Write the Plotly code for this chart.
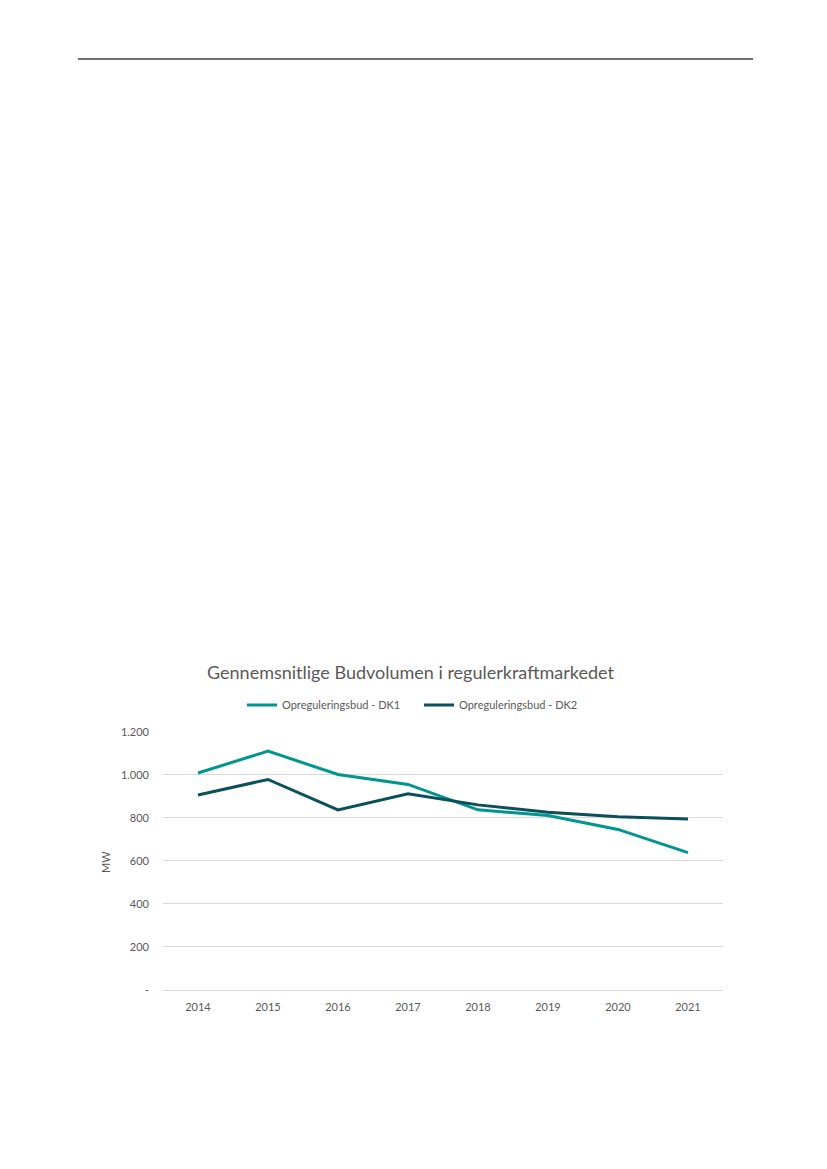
import plotly.graph_objects as go

W, H = 827, 1169
OFF = 8  # page body margin offset

years = ["2014", "2015", "2016", "2017", "2018", "2019", "2020", "2021"]
dk1 = [1008, 1110, 1001, 955, 837, 811, 746, 638]
dk2 = [906, 978, 837, 912, 860, 826, 805, 795]
series_names = ["Opreguleringsbud - DK1", "Opreguleringsbud - DK2"]
y_tickvals = [0, 200, 400, 600, 800, 1000, 1200]
y_ticktext = ["-", "200", "400", "600", "800", "1.000", "1.200"]
title_text = "Gennemsnitlige Budvolumen i regulerkraftmarkedet"
y_title = "MW"

c1 = "#00968F"
c2 = "#0B4F5B"
txt = "#595959"
font = "Lato, 'Open Sans', sans-serif"

def px(x):
    return (x - OFF) / W

def py(y):
    return 1 - (y - OFF) / H

fig = go.Figure()
fig.add_trace(go.Scatter(x=years, y=dk1, mode="lines", name=series_names[0],
                         line=dict(color=c1, width=3)))
fig.add_trace(go.Scatter(x=years, y=dk2, mode="lines", name=series_names[1],
                         line=dict(color=c2, width=3)))

fig.update_layout(
    template="none",
    width=W, height=H,
    margin=dict(l=0, r=0, t=0, b=0, pad=0, autoexpand=False),
    paper_bgcolor="white", plot_bgcolor="white",
    font=dict(family=font, color=txt, size=11),
    showlegend=True,
    legend=dict(orientation="h", x=px(242), xanchor="left", y=py(705), yanchor="middle",
                font=dict(size=11, color=txt), itemwidth=30, entrywidth=132,
                tracegroupgap=0, bgcolor="rgba(0,0,0,0)", borderwidth=0),
    xaxis=dict(domain=[px(163), px(723)], type="category", range=[-0.5, 7.5],
               showgrid=False, showline=False, zeroline=False, ticks="",
               automargin=False, ticklabelstandoff=9,
               tickfont=dict(size=11, color=txt)),
    yaxis=dict(domain=[py(990), py(731.7)], range=[0, 1200], tickvals=y_tickvals,
               ticktext=y_ticktext, showgrid=True, gridcolor="#D9D9D9", gridwidth=1,
               zeroline=True, zerolinecolor="#D9D9D9", zerolinewidth=1,
               showline=False, ticks="", ticklabelstandoff=13, automargin=False,
               tickfont=dict(size=11, color=txt)),
    shapes=[dict(type="line", xref="paper", yref="paper", x0=px(78), x1=px(753),
                 y0=py(59), y1=py(59), line=dict(color="#404040", width=1.5))],
    annotations=[
        dict(text=title_text, xref="paper", yref="paper", x=px(410), y=py(672),
             xanchor="center", yanchor="middle", showarrow=False,
             font=dict(size=18, color=txt, family=font)),
        dict(text=y_title, xref="paper", yref="paper", x=px(105), y=py(862),
             xanchor="center", yanchor="middle", showarrow=False, textangle=-90,
             font=dict(size=11, color=txt, family=font)),
    ],
)

fig.write_html("out.html")
